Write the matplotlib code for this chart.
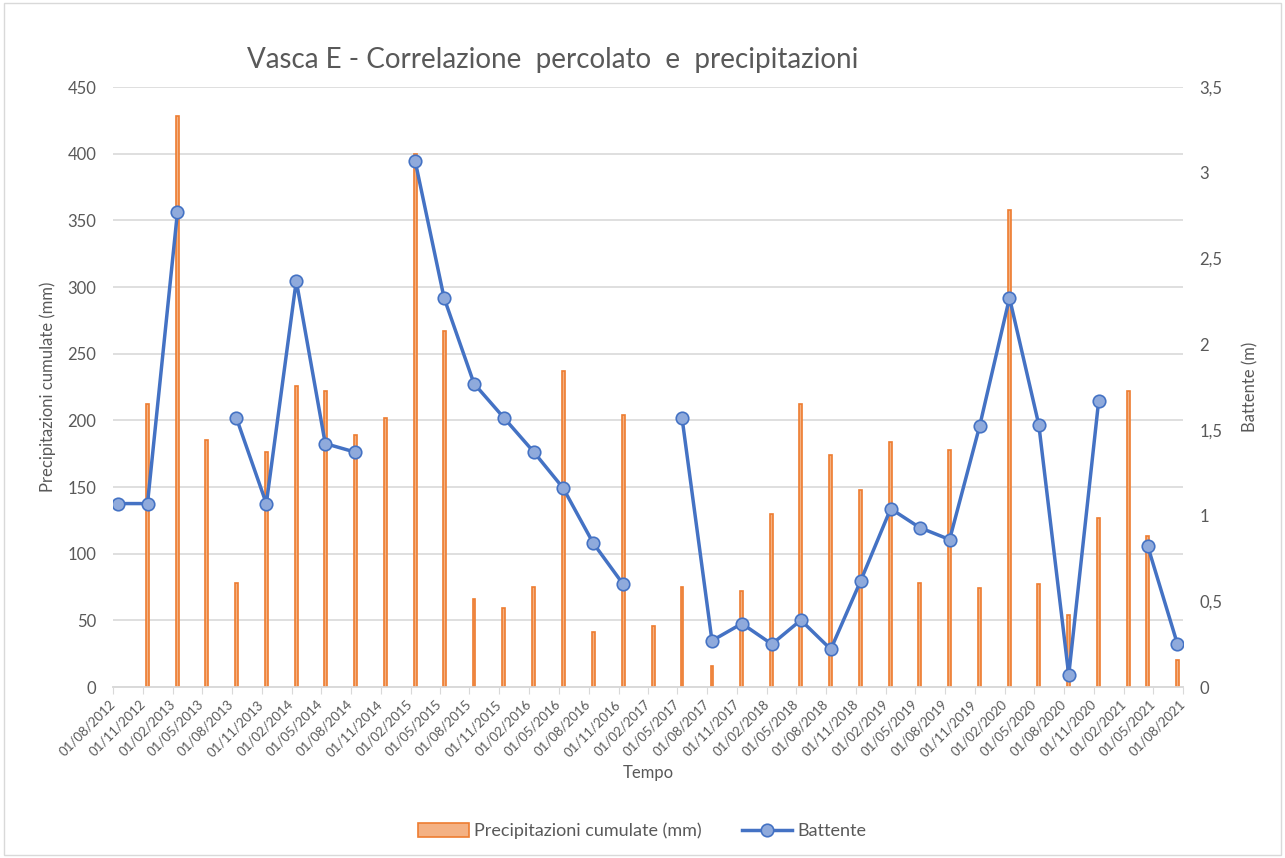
import datetime as dt
import numpy as np
import matplotlib
matplotlib.use("Agg")
import matplotlib.pyplot as plt
import matplotlib.transforms as mtransforms
from matplotlib.patches import Rectangle
from matplotlib.ticker import FuncFormatter, MultipleLocator

plt.rcParams['font.family'] = ['Lato', 'DejaVu Sans']

# sampling dates (mid-month, roughly quarterly)
dates = [
    "2012-08-15", "2012-11-15", "2013-02-15", "2013-05-15", "2013-08-15",
    "2013-11-15", "2014-02-15", "2014-05-15", "2014-08-15", "2014-11-15",
    "2015-02-15", "2015-05-15", "2015-08-15", "2015-11-15", "2016-02-15",
    "2016-05-15", "2016-08-15", "2016-11-15", "2017-02-15", "2017-05-15",
    "2017-08-15", "2017-11-15", "2018-02-15", "2018-05-15", "2018-08-15",
    "2018-11-15", "2019-02-15", "2019-05-15", "2019-08-15", "2019-11-15",
    "2020-02-15", "2020-05-15", "2020-08-15", "2020-11-15", "2021-02-15",
    "2021-04-15", "2021-07-15",
]
nan = np.nan
precipitazioni = [
    nan, 212, 428, 185, 78, 176, 226, 222, 189, 202,
    400, 267, 66, 59, 75, 237, 41, 204, 46, 75,
    16, 72, 130, 212, 174, 148, 184, 78, 178, 74,
    358, 77, 54, 127, 222, 113, 20,
]
battente = [
    1.07, 1.07, 2.77, nan, 1.57, 1.07, 2.37, 1.42, 1.37, nan,
    3.07, 2.27, 1.77, 1.57, 1.37, 1.16, 0.84, 0.60, nan, 1.57,
    0.27, 0.37, 0.25, 0.39, 0.22, 0.62, 1.04, 0.93, 0.86, 1.52,
    2.27, 1.53, 0.07, 1.67, nan, 0.82, 0.25,
]

x = [dt.datetime.strptime(d, "%Y-%m-%d") for d in dates]
tick_dates = []
y, m = 2012, 8
while (y, m) <= (2021, 8):
    tick_dates.append(dt.datetime(y, m, 1))
    m += 3
    if m > 12:
        m -= 12
        y += 1

grey = '#595959'
fig = plt.figure(figsize=(12.85, 8.58), dpi=100)
ax = fig.add_axes([113 / 1285, 1 - 687 / 858, 1070 / 1285, 600 / 858])
ax2 = ax.twinx()

ax.bar(x, precipitazioni, width=9, color='#F4B183', edgecolor='#ED7D31',
       linewidth=1.2, zorder=3, label='Precipitazioni cumulate (mm)')
ax2.plot(x, battente, color='#4472C4', linewidth=2.5, marker='o',
         markersize=9, markerfacecolor='#8FAADC', markeredgecolor='#4472C4',
         markeredgewidth=1.2, zorder=4, label='Battente')

ax.set_xlim(tick_dates[0], tick_dates[-1])
ax.set_ylim(0, 450)
ax2.set_ylim(0, 3.5)
ax.yaxis.set_major_locator(MultipleLocator(50))
ax2.yaxis.set_major_locator(MultipleLocator(0.5))
ax2.yaxis.set_major_formatter(FuncFormatter(lambda v, p: ('%g' % v).replace('.', ',')))

ax.set_xticks(tick_dates)
ax.set_xticklabels([d.strftime('%d/%m/%Y') for d in tick_dates], rotation=45,
                   ha='right', va='center', rotation_mode='anchor',
                   fontsize=9.5, color=grey)
shift = mtransforms.ScaledTranslation(4 / 100, 0, fig.dpi_scale_trans)
for lab in ax.get_xticklabels():
    lab.set_transform(lab.get_transform() + shift)
ax.tick_params(axis='x', length=5, color='#D9D9D9', pad=6)
ax.tick_params(axis='y', length=0, labelsize=12, labelcolor=grey, pad=12)
ax2.tick_params(axis='y', length=0, labelsize=12, labelcolor=grey, pad=12)

ax.grid(axis='y', color='#D9D9D9', linewidth=1.2, zorder=0)
ax.set_axisbelow(True)
for a in (ax, ax2):
    for s in ('top', 'left', 'right'):
        a.spines[s].set_visible(False)
    a.spines['bottom'].set_color('#D9D9D9')
    a.spines['bottom'].set_linewidth(1.2)

ax.set_xlabel('Tempo', fontsize=12, color=grey)
ax.xaxis.set_label_coords(0.5, -0.13)
ax.set_ylabel('Precipitazioni cumulate (mm)', fontsize=12, color=grey, labelpad=8)
ax2.set_ylabel('Battente (m)', fontsize=12, color=grey, labelpad=14)

fig.text(553 / 1285, 1 - 60 / 858, 'Vasca E - Correlazione  percolato  e  precipitazioni',
         ha='center', va='center', fontsize=20, color=grey)

h1, l1 = ax.get_legend_handles_labels()
h2, l2 = ax2.get_legend_handles_labels()
fig.legend(h1 + h2, l1 + l2, loc='center', bbox_to_anchor=(0.5, 1 - 831 / 858),
           ncol=2, frameon=False, fontsize=13, labelcolor=grey,
           handlelength=2.8, handleheight=0.8, handletextpad=0.3,
           columnspacing=2.2)

fig.patches.append(Rectangle((0.003, 0.003), 0.994, 0.994, transform=fig.transFigure,
                             fill=False, edgecolor='#D9D9D9', linewidth=1))

fig.savefig('out.png', dpi=100)
